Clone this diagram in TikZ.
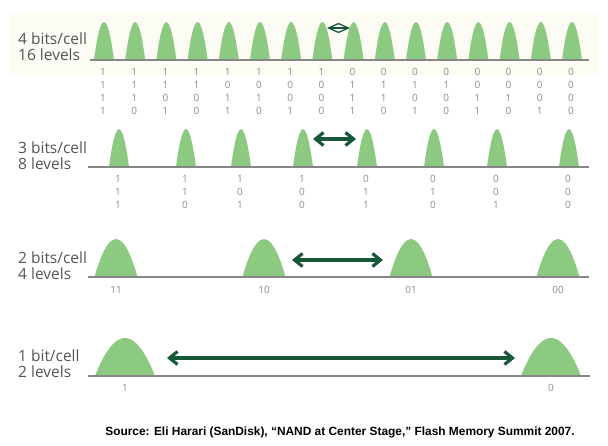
\documentclass[tikz,border=0pt]{standalone}
\usepackage{fontspec}
\setmainfont{Open Sans}
\newfontfamily\srcfont{Liberation Sans}
\usepackage{xcolor}
\usetikzlibrary{arrows.meta}

\definecolor{vertpic}{RGB}{140,201,129}
\definecolor{fleche}{RGB}{22,88,56}
\definecolor{axegris}{RGB}{135,135,135}
\definecolor{texte}{RGB}{85,85,85}
\definecolor{bitgris}{RGB}{140,140,140}
\definecolor{fond}{RGB}{252,251,244}

\tikzset{
  niveau/.style={font=\fontsize{15.5}{16}\selectfont, text=texte, align=left, anchor=west, inner sep=0pt},
  bit/.style={font=\fontsize{10}{13}\selectfont, text=bitgris, align=center, inner sep=0pt},
  axe/.style={draw=axegris, line width=1.6pt},
  ecart/.style={draw=fleche, line width=3.2pt, {Straight Barb[length=8pt,width=13pt]}-{Straight Barb[length=8pt,width=13pt]}},
  ecartfin/.style={draw=fleche, line width=1.3pt, {Straight Barb[length=10pt,width=9pt]}-{Straight Barb[length=10pt,width=9pt]}},
}
% bosse : x du centre, y de la base, largeur, hauteur
\newcommand{\bosse}[4]{\fill[vertpic] (#1-#3/2,#2) parabola bend (#1,#2-#4) (#1+#3/2,#2);}

\begin{document}
\begin{tikzpicture}[x=1pt,y=-1pt]
\useasboundingbox (0,0) rectangle (608,446);
\fill[white] (0,0) rectangle (608,446);
\fill[fond] (10,12) rectangle (598,75);

% 4 bits/cell, 16 niveaux
\node[niveau] (l4) at (18,47) {4 bits/cell\\16 levels};
\foreach \i/\a/\b/\c/\d in {0/1/1/1/1,1/1/1/1/0,2/1/1/0/1,3/1/1/0/0,4/1/0/1/1,5/1/0/1/0,6/1/0/0/1,7/1/0/0/0,
    8/0/1/1/1,9/0/1/1/0,10/0/1/0/1,11/0/1/0/0,12/0/0/1/1,13/0/0/1/0,14/0/0/0/1,15/0/0/0/0} {
    \bosse{104+31.2*\i}{60}{20}{38}
    \node[bit] (q\i) at (103+31.2*\i,91.5) {\a\\\b\\\c\\\d};
}
\draw[axe] (90,60) -- (589,60);
\coordinate (g4) at (327,28);
\coordinate (d4) at (350,28);
\draw[ecartfin] (g4) -- (d4);

% 3 bits/cell, 8 niveaux
\node[niveau] (l3) at (18,155.5) {3 bits/cell\\8 levels};
\foreach \i/\x/\a/\b/\c in {0/119/1/1/1,1/186/1/1/0,2/241/1/0/1,3/303/1/0/0,4/367/0/1/1,5/434/0/1/0,6/497/0/0/1,7/569/0/0/0} {
    \bosse{\x}{167}{20}{38}
    \node[bit] (t\i) at (\x-1,192) {\a\\\b\\\c};
}
\draw[axe] (88,167) -- (589,167);
\coordinate (g3) at (313,139);
\coordinate (d3) at (356,139);
\draw[ecart] (g3) -- (d3);

% 2 bits/cell, 4 niveaux
\node[niveau] (l2) at (18,265.5) {2 bits/cell\\4 levels};
\foreach \i/\x/\label in {0/116/11,1/264/10,2/411/01,3/558/00} {
    \bosse{\x}{277}{43}{38}
    \node[bit] (d\i) at (\x,290) {\label};
}
\draw[axe] (88,277) -- (589,277);
\coordinate (g2) at (292,260);
\coordinate (d2) at (383,260);
\draw[ecart] (g2) -- (d2);

% 1 bit/cell, 2 niveaux
\node[niveau] (l1) at (18,364) {1 bit/cell\\2 levels};
\foreach \i/\x/\label in {0/125/1,1/551/0} {
    \bosse{\x}{376}{60}{38}
    \node[bit] (u\i) at (\x,388) {\label};
}
\draw[axe] (88,376) -- (590,376);
\coordinate (g1) at (167,358);
\coordinate (d1) at (515,358);
\draw[ecart] (g1) -- (d1);

\node[font=\srcfont\bfseries\fontsize{11.9}{14}\selectfont] (source) at (340,432)
  {Source: Eli Harari (SanDisk), “NAND at Center Stage,” Flash Memory Summit 2007.};
\end{tikzpicture}
\end{document}
